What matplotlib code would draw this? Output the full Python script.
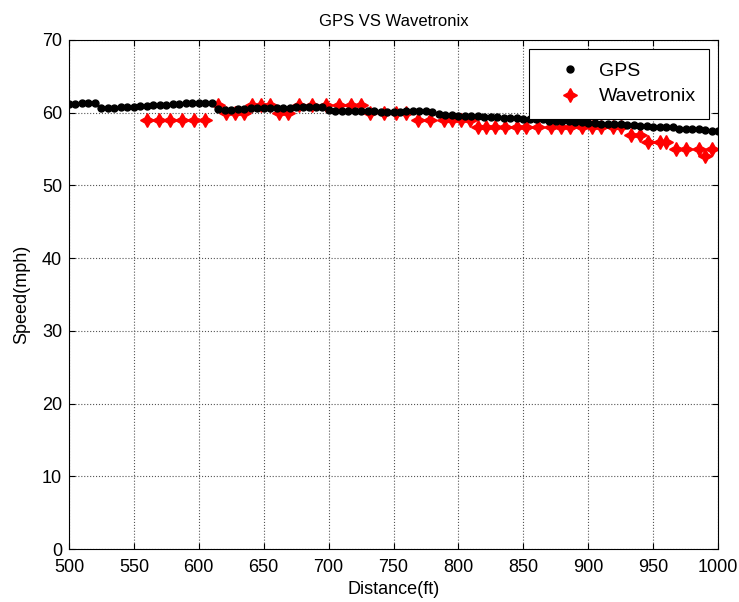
import matplotlib
matplotlib.use("Agg")
import matplotlib.pyplot as plt

plt.rcParams['font.family'] = ['Liberation Sans', 'DejaVu Sans']

# GPS samples, one every 5 ft from 500 to 1000
gps_dist = list(range(500, 1001, 5))
gps_speed = [61.2, 61.2, 61.3, 61.4, 61.4, 60.6, 60.6, 60.7, 60.8, 60.8,
             60.8, 60.9, 60.9, 61.0, 61.0, 61.1, 61.2, 61.2, 61.3, 61.3,
             61.4, 61.4, 61.4, 60.5, 60.4, 60.4, 60.5, 60.5, 60.6, 60.6,
             60.7, 60.7, 60.7, 60.7, 60.7, 60.8, 60.8, 60.8, 60.8, 60.8,
             60.4, 60.3, 60.2, 60.2, 60.2, 60.2, 60.2, 60.2, 60.1, 60.1,
             60.1, 60.1, 60.2, 60.2, 60.2, 60.2, 60.1, 59.8, 59.7, 59.7,
             59.6, 59.6, 59.5, 59.5, 59.4, 59.4, 59.4, 59.3, 59.3, 59.3,
             59.2, 59.2, 59.1, 59.1, 58.9, 58.9, 58.8, 58.8, 58.7, 58.7,
             58.6, 58.6, 58.5, 58.5, 58.4, 58.4, 58.3, 58.3, 58.2, 58.2,
             58.1, 58.1, 58.1, 58.0, 57.8, 57.7, 57.7, 57.7, 57.6, 57.5,
             57.5]

wav_dist = [560, 569, 578, 587, 596, 605, 615, 621, 628, 635, 641, 648, 655,
            662, 669, 677, 687, 698, 708, 717, 725, 732, 743, 752, 760, 769,
            778, 789, 795, 802, 809, 815, 821, 828, 836, 845, 852, 861, 871,
            879, 886, 895, 903, 910, 919, 925, 933, 940, 946, 955, 960, 968,
            975, 985, 990, 995]
wav_speed = [59, 59, 59, 59, 59, 59, 61, 60, 60, 60, 61, 61, 61,
             60, 60, 61, 61, 61, 61, 61, 61, 60, 60, 60, 60, 59,
             59, 59, 59, 59, 59, 58, 58, 58, 58, 58, 58, 58, 58,
             58, 58, 58, 58, 58, 58, 58, 57, 57, 56, 56, 56, 55,
             55, 55, 54, 55]

fig = plt.figure(figsize=(7.39, 6.02), dpi=100)
# axes box: x 69..718 px, y 40..549 px
ax = fig.add_axes([69 / 739, 1 - 549 / 602, 649 / 739, 509 / 602])

ax.plot(gps_dist, gps_speed, linestyle='none', marker='o', color='black',
        markersize=5, label='GPS', zorder=3)
ax.plot(wav_dist, wav_speed, linestyle='none', marker=(4, 1, 0), color='red',
        markersize=10, label='Wavetronix', zorder=2)

ax.set_xlim(500, 1000)
ax.set_ylim(0, 70)
ax.set_xticks(range(500, 1001, 50))
ax.set_yticks(range(0, 71, 10))
ax.grid(True, linestyle=':', color='#555555', linewidth=0.8)
ax.tick_params(direction='in', top=True, right=True, labelsize=13, length=4)
ax.tick_params(axis='x', pad=7)
ax.tick_params(axis='y', pad=5)
for s in ax.spines.values():
    s.set_linewidth(0.8)

ax.set_xlabel('Distance(ft)', fontsize=13, labelpad=4)
ax.set_ylabel('Speed(mph)', fontsize=13, labelpad=8)
ax.set_title('GPS VS Wavetronix', fontsize=12, pad=10)

leg = ax.legend(loc='upper right', fontsize=14, fancybox=False,
                edgecolor='black', framealpha=1, borderaxespad=0.45,
                handletextpad=0.0, borderpad=0.7, labelspacing=0.4,
                handlelength=2.9)
leg.get_frame().set_linewidth(0.8)

fig.savefig('out.png', dpi=100)
